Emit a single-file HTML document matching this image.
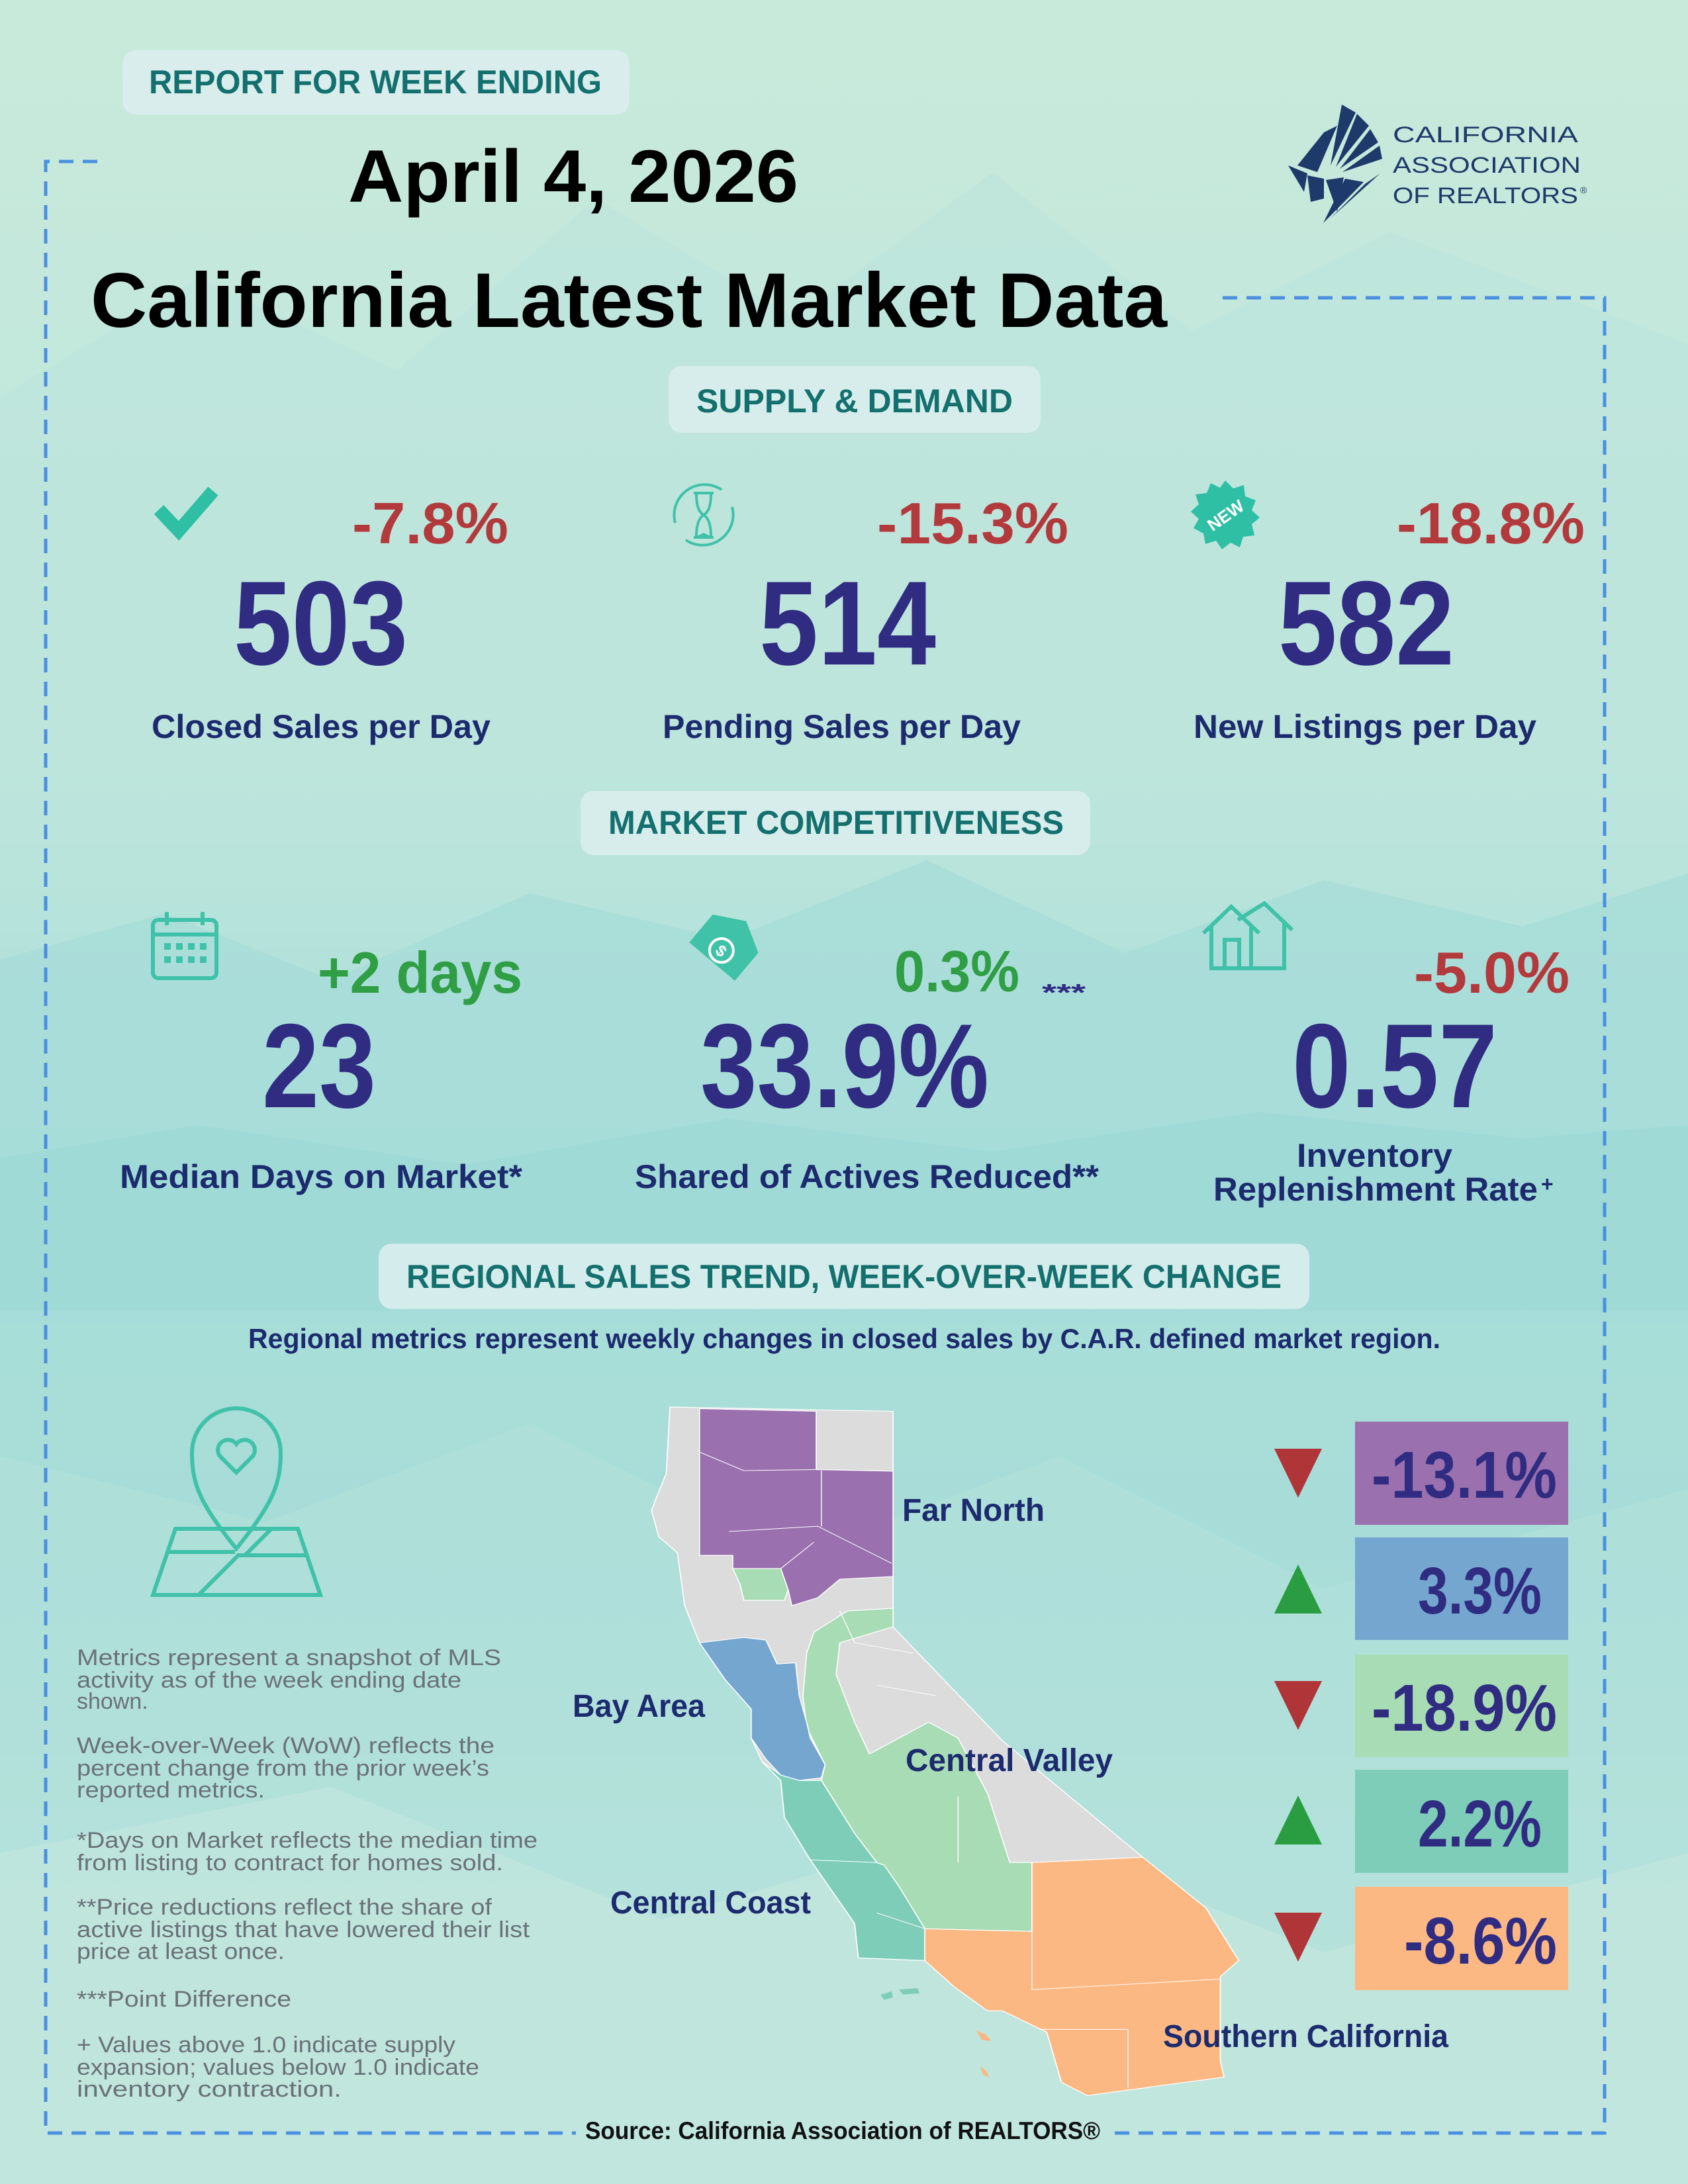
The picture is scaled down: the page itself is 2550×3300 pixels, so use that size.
<!DOCTYPE html>
<html><head><meta charset="utf-8"><style>
html,body{margin:0;padding:0;width:2550px;height:3300px;overflow:hidden;background:#c3e7dc}
svg{display:block}
text{font-family:"Liberation Sans",sans-serif}
</style></head><body>
<svg width="2550" height="3300" viewBox="0 0 2550 3300" xmlns="http://www.w3.org/2000/svg">
<defs>
<linearGradient id="bg" x1="0" y1="0" x2="0" y2="1">
<stop offset="0" stop-color="#c8eadb"/><stop offset="0.35" stop-color="#bde5dc"/>
<stop offset="0.55" stop-color="#a9dfd9"/><stop offset="0.7" stop-color="#a7dcd8"/>
<stop offset="1" stop-color="#c2e6de"/></linearGradient>
</defs>
<rect width="2550" height="3300" fill="url(#bg)"/>
<polygon points="0,600 300,420 600,560 900,300 1200,480 1500,260 1800,500 2100,350 2550,520 2550,1100 0,1100" fill="#bce4dc" opacity="0.6"/>
<polygon points="0,1450 250,1380 500,1480 800,1350 1100,1420 1400,1300 1700,1440 2000,1330 2300,1400 2550,1320 2550,2000 0,2000" fill="#a5dcd8" opacity="0.7"/>
<polygon points="0,1750 300,1700 700,1760 1100,1690 1500,1740 1900,1680 2300,1720 2550,1700 2550,1980 0,1980" fill="#9ed9d6" opacity="0.8"/>
<polygon points="0,2200 400,2300 800,2150 1200,2350 1600,2200 2000,2400 2550,2250 2550,3300 0,3300" fill="#b3e1da" opacity="0.6"/>
<polygon points="0,2800 500,2700 1000,2900 1500,2750 2000,2950 2550,2800 2550,3300 0,3300" fill="#c3e7de" opacity="0.7"/>

<g stroke="#4a8fe0" stroke-width="5" stroke-dasharray="22 14" fill="none">
<polyline points="147,244 69,244 69,3223 870,3223"/>
<polyline points="1847,450 2424,450 2424,3223 1680,3223"/>
</g>

<g fill="#d9eded" opacity="0.9">
<rect x="185" y="76" width="766" height="97" rx="20"/>
<rect x="1010" y="553" width="562" height="101" rx="20"/>
<rect x="877" y="1195" width="770" height="97" rx="20"/>
<rect x="572" y="1879" width="1406" height="99" rx="20"/>
</g>
<g fill="#13706e" font-weight="bold" font-size="50">
<text x="225" y="141" textLength="684" lengthAdjust="spacingAndGlyphs">REPORT FOR WEEK ENDING</text>
<text x="1052" y="623" textLength="478" lengthAdjust="spacingAndGlyphs">SUPPLY &amp; DEMAND</text>
<text x="919" y="1260" textLength="688" lengthAdjust="spacingAndGlyphs">MARKET COMPETITIVENESS</text>
<text x="614" y="1946" textLength="1322" lengthAdjust="spacingAndGlyphs">REGIONAL SALES TREND, WEEK-OVER-WEEK CHANGE</text>
</g>

<text x="526" y="305" font-size="112" font-weight="bold" fill="#000" textLength="680" lengthAdjust="spacingAndGlyphs">April 4, 2026</text>
<text x="137" y="494" font-size="117" font-weight="bold" fill="#000" textLength="1626" lengthAdjust="spacingAndGlyphs">California Latest Market Data</text>

<g fill="#1d3a6a">
<polygon points="2027,158 2048,170 2010,250"/>
<polygon points="2050,172 2068,190 2018,252"/>
<polygon points="2070,195 2082,215 2024,255"/>
<polygon points="2084,220 2088,240 2028,260"/>
<polygon points="2000,200 2020,190 1990,260 1960,250"/>
<polygon points="1946,250 1975,262 1970,290"/>
<polygon points="1975,265 2000,270 2000,300 1980,305"/>
<polygon points="2003,272 2030,268 2020,320"/>
<polygon points="2032,270 2060,275 1999,337"/>
<polygon points="2062,278 2085,262 2010,330"/>
</g>
<g font-family="Liberation Serif,serif" fill="#1d3a6a" font-size="34">
<text x="2104" y="215" textLength="280" lengthAdjust="spacingAndGlyphs">CALIFORNIA</text>
<text x="2104" y="261" textLength="284" lengthAdjust="spacingAndGlyphs">ASSOCIATION</text>
<text x="2104" y="307" textLength="280" lengthAdjust="spacingAndGlyphs">OF REALTORS</text>
<text x="2387" y="292" font-size="14">®</text>
</g>

<polyline points="240,770 270,802 322,742" fill="none" stroke="#2ebfa5" stroke-width="20"/>
<g stroke="#3fc2a8" stroke-width="4" fill="none">
<path d="M1020,790 A46,46 0 0 1 1090,740"/>
<path d="M1106,766 A46,46 0 0 1 1036,816"/>
<path d="M1048,745 h30 M1048,812 h30 M1052,747 q0,25 11,31 q11,-6 11,-31 M1052,810 q0,-25 11,-32 q11,7 11,32"/>
</g>
<polygon points="1063,805 1053,810 1073,810" fill="#3fc2a8"/>
<g transform="translate(1851,778)">
<polygon fill="#2ebfa5" points="0,-52 12,-40 28,-45 30,-28 46,-22 40,-7 52,4 40,14 44,31 27,33 22,49 8,42 -5,52 -14,39 -30,44 -33,28 -48,20 -40,6 -52,-5 -40,-16 -45,-31 -28,-33 -22,-48 -8,-41"/>
<text x="0" y="10" transform="rotate(-35)" text-anchor="middle" font-size="26" font-weight="bold" fill="#fff">NEW</text>
</g>

<g fill="#b33a3c" font-size="88" font-weight="bold">
<text x="532" y="821" textLength="236" lengthAdjust="spacingAndGlyphs">-7.8%</text>
<text x="1325" y="821" textLength="289" lengthAdjust="spacingAndGlyphs">-15.3%</text>
<text x="2110" y="821" textLength="284" lengthAdjust="spacingAndGlyphs">-18.8%</text>
</g>
<g fill="#302c82" font-size="181" font-weight="bold">
<text x="353" y="1004" textLength="263" lengthAdjust="spacingAndGlyphs">503</text>
<text x="1147" y="1004" textLength="267" lengthAdjust="spacingAndGlyphs">514</text>
<text x="1931" y="1004" textLength="266" lengthAdjust="spacingAndGlyphs">582</text>
</g>
<g fill="#1c2a6e" font-size="50" font-weight="bold">
<text x="229" y="1115" textLength="512" lengthAdjust="spacingAndGlyphs">Closed Sales per Day</text>
<text x="1001" y="1115" textLength="541" lengthAdjust="spacingAndGlyphs">Pending Sales per Day</text>
<text x="1803" y="1115" textLength="518" lengthAdjust="spacingAndGlyphs">New Listings per Day</text>
</g>

<g stroke="#3fc2a8" stroke-width="6" fill="none">
<rect x="231" y="1390" width="96" height="88" rx="8"/>
<line x1="231" y1="1412" x2="327" y2="1412"/>
<line x1="252" y1="1378" x2="252" y2="1398"/><line x1="306" y1="1378" x2="306" y2="1398"/>
</g>
<g fill="#3fc2a8">
<rect x="248" y="1425" width="10" height="10"/><rect x="266" y="1425" width="10" height="10"/><rect x="284" y="1425" width="10" height="10"/><rect x="302" y="1425" width="10" height="10"/>
<rect x="248" y="1445" width="10" height="10"/><rect x="266" y="1445" width="10" height="10"/><rect x="284" y="1445" width="10" height="10"/><rect x="302" y="1445" width="10" height="10"/>
</g>
<g transform="translate(1095,1430) rotate(40)">
<path d="M-30,-45 h55 l25,45 l-25,45 h-55 z" fill="#3fc2a8" transform="rotate(-90)"/>
<circle cx="0" cy="8" r="18" fill="none" stroke="#fff" stroke-width="4"/>
<text x="0" y="17" text-anchor="middle" font-size="24" font-weight="bold" fill="#fff">$</text>
</g>
<g stroke="#3fc2a8" stroke-width="6" fill="none">
<polyline points="1818,1410 1860,1370 1902,1410"/>
<polyline points="1830,1400 1830,1463 1890,1463 1890,1400"/>
<polyline points="1870,1390 1910,1365 1952,1405"/>
<polyline points="1940,1395 1940,1463 1890,1463"/>
<rect x="1850" y="1420" width="22" height="43"/>
</g>

<g font-size="88" font-weight="bold">
<text x="480" y="1500" fill="#2f9e45" textLength="309" lengthAdjust="spacingAndGlyphs">+2 days</text>
<text x="1351" y="1498" fill="#2f9e45" textLength="189" lengthAdjust="spacingAndGlyphs">0.3%</text>
<text x="2136" y="1500" fill="#b33a3c" textLength="235" lengthAdjust="spacingAndGlyphs">-5.0%</text>
</g>
<text x="1574" y="1512" font-size="36" font-weight="bold" fill="#302c82" textLength="66" lengthAdjust="spacingAndGlyphs">***</text>
<g fill="#302c82" font-size="181" font-weight="bold">
<text x="396" y="1673" textLength="172" lengthAdjust="spacingAndGlyphs">23</text>
<text x="1058" y="1673" textLength="436" lengthAdjust="spacingAndGlyphs">33.9%</text>
<text x="1952" y="1673" textLength="310" lengthAdjust="spacingAndGlyphs">0.57</text>
</g>
<g fill="#1c2a6e" font-size="50" font-weight="bold">
<text x="181" y="1795" textLength="608" lengthAdjust="spacingAndGlyphs">Median Days on Market*</text>
<text x="959" y="1795" textLength="701" lengthAdjust="spacingAndGlyphs">Shared of Actives Reduced**</text>
<text x="1959" y="1763" textLength="235" lengthAdjust="spacingAndGlyphs">Inventory</text>
<text x="1833" y="1814" textLength="490" lengthAdjust="spacingAndGlyphs">Replenishment Rate</text>
<text x="2328" y="1800" font-size="32">+</text>
</g>

<text x="375" y="2037" font-size="42" font-weight="bold" fill="#1c2a6e" textLength="1801" lengthAdjust="spacingAndGlyphs">Regional metrics represent weekly changes in closed sales by C.A.R. defined market region.</text>

<g stroke="#3fc2a8" stroke-width="6" fill="none">
<path d="M357,2340 C300,2270 290,2240 290,2195 A67,67 0 0 1 424,2195 C424,2240 414,2270 357,2340 Z"/>
<path d="M357,2225 l-25,-25 a14,14 0 0 1 25,-18 a14,14 0 0 1 25,18 z"/>
<polygon points="265,2310 450,2310 484,2410 231,2410"/>
<path d="M255,2345 h100 M300,2410 l60,-60 h105 M410,2310 l-40,40"/>
</g>

<g fill="#6a7178" font-size="34">
<text x="116" y="2516" textLength="641" lengthAdjust="spacingAndGlyphs">Metrics represent a snapshot of MLS</text>
<text x="116" y="2550" textLength="581" lengthAdjust="spacingAndGlyphs">activity as of the week ending date</text>
<text x="116" y="2582">shown.</text>
<text x="116" y="2649" textLength="631" lengthAdjust="spacingAndGlyphs">Week-over-Week (WoW) reflects the</text>
<text x="116" y="2683" textLength="623" lengthAdjust="spacingAndGlyphs">percent change from the prior week’s</text>
<text x="116" y="2716" textLength="284" lengthAdjust="spacingAndGlyphs">reported metrics.</text>
<text x="116" y="2792" textLength="696" lengthAdjust="spacingAndGlyphs">*Days on Market reflects the median time</text>
<text x="116" y="2826" textLength="644" lengthAdjust="spacingAndGlyphs">from listing to contract for homes sold.</text>
<text x="116" y="2893" textLength="627" lengthAdjust="spacingAndGlyphs">**Price reductions reflect the share of</text>
<text x="116" y="2927" textLength="684" lengthAdjust="spacingAndGlyphs">active listings that have lowered their list</text>
<text x="116" y="2960" textLength="314" lengthAdjust="spacingAndGlyphs">price at least once.</text>
<text x="116" y="3032" textLength="324" lengthAdjust="spacingAndGlyphs">***Point Difference</text>
<text x="116" y="3101" textLength="572" lengthAdjust="spacingAndGlyphs">+ Values above 1.0 indicate supply</text>
<text x="116" y="3135" textLength="608" lengthAdjust="spacingAndGlyphs">expansion; values below 1.0 indicate</text>
<text x="116" y="3168" textLength="400" lengthAdjust="spacingAndGlyphs">inventory contraction.</text>
</g>

<!-- map -->
<g transform="translate(800,2050) scale(1.1161,0.8003)" stroke="#ffffff" stroke-width="1.5" stroke-linejoin="round">
<polygon fill="#dcdcdc" points="190,95 492,103 492,510 640,725 830,945 915,1040 960,1140 935,1170 935,1330 940,1360 755,1395 720,1370 700,1275 640,1235 620,1235 575,1190 535,1140 445,1135 440,1070 420,1030 380,950 345,870 340,800 315,765 300,720 300,665 265,610 230,540 210,470 200,370 175,340 165,290 185,220"/>
<polygon fill="#9a70ae" points="230,98 388,103 388,213 492,216 492,415 420,420 390,455 355,470 350,440 340,400 275,400 275,375 230,375 230,180"/>
<polygon fill="#a8dcb4" points="275,400 340,400 350,440 345,460 290,460 285,430"/>
<polygon fill="#a8dcb4" points="385,520 430,480 492,475 492,510 420,540 415,600 440,690 460,750 540,690 580,720 620,825 650,955 680,955 680,1085 535,1080 500,1000 470,955 440,900 395,800 400,770 375,700 370,640 375,560"/>
<polygon fill="#74a6cf" points="230,540 290,530 320,535 335,580 360,578 365,640 375,690 380,720 400,770 395,795 365,800 340,790 320,760 300,720 300,665 265,610"/>
<polygon fill="#7ecdb9" points="315,765 340,790 365,800 395,800 440,900 470,955 480,960 500,1000 535,1080 535,1140 445,1135 440,1070 420,1030 380,950 345,870 340,800"/>
<polygon fill="#fcb882" points="680,955 830,945 915,1040 960,1140 935,1170 935,1330 940,1360 755,1395 720,1370 700,1275 640,1235 620,1235 575,1190 535,1140 535,1080 680,1085"/>
<g fill="none" stroke-width="1.2">
<path d="M230,180 L290,215 L388,213 M395,215 L395,320 M270,330 L390,320 L490,390 M340,400 L385,350 M420,480 L440,540 L520,560 M470,620 L550,640 M580,830 L580,955 M680,1085 L680,1195 L935,1175 M690,1270 L810,1270 L810,1380 M470,1050 L535,1080 M380,950 L470,955"/>
</g>
<polygon fill="#7ecdb9" stroke="none" points="475,1205 490,1198 492,1210 480,1214"/>
<polygon fill="#7ecdb9" stroke="none" points="500,1195 525,1192 528,1202 505,1204"/>
<polygon fill="#fcb882" stroke="none" points="605,1272 618,1280 625,1292 612,1290"/>
<polygon fill="#fcb882" stroke="none" points="610,1340 618,1348 622,1360 614,1356"/>
</g>
<g fill="#1c2a6e" font-size="48" font-weight="bold">
<text x="1363" y="2298" textLength="215" lengthAdjust="spacingAndGlyphs">Far North</text>
<text x="865" y="2594" textLength="200" lengthAdjust="spacingAndGlyphs">Bay Area</text>
<text x="1368" y="2676" textLength="313" lengthAdjust="spacingAndGlyphs">Central Valley</text>
<text x="922" y="2891" textLength="303" lengthAdjust="spacingAndGlyphs">Central Coast</text>
<text x="1757" y="3093" textLength="431" lengthAdjust="spacingAndGlyphs">Southern California</text>
</g>

<rect x="2047" y="2148" width="322" height="156" fill="#9a70ae"/>
<rect x="2047" y="2323" width="322" height="155" fill="#74a6cf"/>
<rect x="2047" y="2500" width="322" height="155" fill="#a8dcb4"/>
<rect x="2047" y="2674" width="322" height="156" fill="#7ecdb9"/>
<rect x="2047" y="2851" width="322" height="156" fill="#fcb882"/>
<g fill="#302c82" font-size="100" font-weight="bold">
<text x="2072" y="2263" textLength="280" lengthAdjust="spacingAndGlyphs">-13.1%</text>
<text x="2142" y="2438" textLength="187" lengthAdjust="spacingAndGlyphs">3.3%</text>
<text x="2072" y="2615" textLength="280" lengthAdjust="spacingAndGlyphs">-18.9%</text>
<text x="2142" y="2790" textLength="187" lengthAdjust="spacingAndGlyphs">2.2%</text>
<text x="2121" y="2967" textLength="231" lengthAdjust="spacingAndGlyphs">-8.6%</text>
</g>
<polygon fill="#b03538" points="1925,2189 1997,2189 1961,2263"/>
<polygon fill="#2a9d43" points="1925,2438 1997,2438 1961,2364"/>
<polygon fill="#b03538" points="1925,2540 1997,2540 1961,2614"/>
<polygon fill="#2a9d43" points="1925,2787 1997,2787 1961,2713"/>
<polygon fill="#b03538" points="1925,2890 1997,2890 1961,2964"/>

<text x="884" y="3232" font-size="37" font-weight="bold" fill="#111" textLength="778" lengthAdjust="spacingAndGlyphs">Source: California Association of REALTORS®</text>
</svg>
</body></html>
